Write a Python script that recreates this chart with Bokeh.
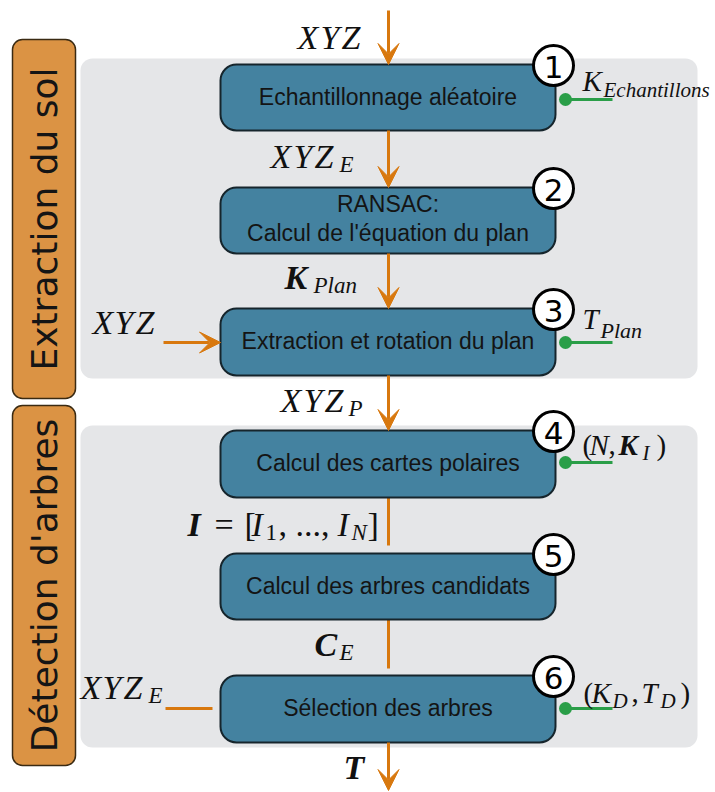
import math
from bokeh.plotting import figure
from bokeh.models import Range1d, Arrow, VeeHead
from bokeh.core.properties import value
from bokeh.embed import file_html
from bokeh.resources import INLINE

# ---------------- content ----------------
section_labels = ["Extraction du sol", "Détection d'arbres"]
step_numbers = ["1", "2", "3", "4", "5", "6"]
step_lines = [
    ["Echantillonnage aléatoire"],
    ["RANSAC:", "Calcul de l'équation du plan"],
    ["Extraction et rotation du plan"],
    ["Calcul des cartes polaires"],
    ["Calcul des arbres candidats"],
    ["Sélection des arbres"],
]
# math labels as segments: (text, kind)  m=italic, b=bold italic, s=italic subscript, r=roman, rs=roman subscript
flow_top = [("X", "m"), ("Y", "m"), ("Z", "m")]
flow_12 = [("X", "m"), ("Y", "m"), ("Z", "m"), ("E", "s")]
flow_23 = [("K", "b"), ("Plan", "s")]
flow_in3 = [("X", "m"), ("Y", "m"), ("Z", "m")]
flow_34 = [("X", "m"), ("Y", "m"), ("Z", "m"), ("P", "s")]
flow_45 = [("I", "b"), ("=", "r"), ("[", "r"), ("I", "m"), ("1", "rs"), (", ..., ", "r"),
           ("I", "m"), ("N", "s"), ("]", "r")]
flow_56 = [("C", "b"), ("E", "s")]
flow_in6 = [("X", "m"), ("Y", "m"), ("Z", "m"), ("E", "s")]
flow_out = [("T", "b")]
param_1 = [("K", "m"), ("Echantillons", "s")]
param_3 = [("T", "m"), ("Plan", "s")]
param_4 = [("(", "r"), ("N", "m"), (",", "r"), ("K", "b"), ("I", "s"), (")", "r")]
param_6 = [("(", "r"), ("K", "m"), ("D", "s"), (",", "r"), ("T", "m"), ("D", "s"), (")", "r")]

# ---------------- layout (page pixel coordinates, y downwards) ----------------
W, H = 715, 792
def Y(v):
    return H - v

box_left, box_right = 220, 555
box_top = [64, 187, 308, 430, 553, 675]
box_bot = [130, 253, 375, 497, 619, 742]
flow_x = 388

ORANGE = "#d8780e"
GREEN = "#2a9e48"
BLUE = "#4482a0"

p = figure(width=W, height=H, output_backend="svg", toolbar_location=None,
           x_range=Range1d(0, W), y_range=Range1d(0, H),
           min_border=0, outline_line_color=None, background_fill_color="white",
           border_fill_color="white")
p.axis.visible = False
p.grid.visible = False

# gray panels
p.quad(left=[80, 80], right=[697, 697], top=[Y(58), Y(425)], bottom=[Y(378), Y(747)],
       fill_color="#e5e6e8", line_color=None, border_radius=12)

# orange section labels
p.quad(left=[12, 12], right=[75, 75], top=[Y(39), Y(405)], bottom=[Y(398), Y(765)],
       fill_color="#db9344", line_color="#3a2a12", line_width=1.5, border_radius=10)
p.text(x=[44, 44], y=[Y(218.5), Y(585)], text=section_labels, angle=math.pi / 2,
       text_font=value("DejaVu Sans"), text_font_size="36px", text_align="center",
       text_baseline="middle", text_color="#151515")

# flow connectors
def arrow(x0, y0, x1, y1, head=True):
    if head:
        p.add_layout(Arrow(x_start=x0, y_start=Y(y0), x_end=x1, y_end=Y(y1),
                           line_color=ORANGE, line_width=3,
                           end=VeeHead(size=21, fill_color=ORANGE, line_color=ORANGE, line_width=1)))
    else:
        p.segment(x0=[x0], y0=[Y(y0)], x1=[x1], y1=[Y(y1)], line_color=ORANGE, line_width=3)

arrow(flow_x, 10, flow_x, box_top[0])
arrow(flow_x, box_bot[0], flow_x, box_top[1])
arrow(flow_x, box_bot[1], flow_x, box_top[2])
arrow(flow_x, box_bot[2], flow_x, box_top[3])
arrow(flow_x, box_bot[3], flow_x, 545, head=False)
arrow(flow_x, box_bot[4], flow_x, 668, head=False)
arrow(flow_x, box_bot[5], flow_x, 790)
arrow(163, 342, box_left, 342)
arrow(165, 708, 212, 708, head=False)

# blue step boxes
p.quad(left=[box_left] * 6, right=[box_right] * 6, top=[Y(t) for t in box_top],
       bottom=[Y(b) for b in box_bot], fill_color=BLUE, line_color="#16252c",
       line_width=2, border_radius=16)

# step texts (text_baseline middle)
for i, lines in enumerate(step_lines):
    cy = (box_top[i] + box_bot[i]) / 2
    if len(lines) == 1:
        ys = [cy - 1]
    else:
        ys = [cy - 17, cy + 12]
    p.text(x=[(box_left + box_right) / 2] * len(lines), y=[Y(v) for v in ys], text=lines,
           text_font=value("Liberation Sans"), text_font_size="23px", text_align="center",
           text_baseline="middle", text_color="#141414")

# green parameter connectors
green_y = [99, 342, 462, 708]
p.segment(x0=[565] * 4, y0=[Y(v) for v in green_y], x1=[612] * 4, y1=[Y(v) for v in green_y],
          line_color=GREEN, line_width=3)
p.circle(x=[565] * 4, y=[Y(v) for v in green_y], radius=6.5, fill_color=GREEN, line_color=None)

# numbered circles
p.circle(x=[553] * 6, y=[Y(t + 1) for t in box_top], radius=20, fill_color="white",
         line_color="black", line_width=3)
p.text(x=[553] * 6, y=[Y(t + 2) for t in box_top], text=step_numbers,
       text_font=value("DejaVu Sans"), text_font_size="31px", text_align="center",
       text_baseline="middle", text_color="black")

# math labels: xs = left edges, base = baseline of main text, sub_base = baseline of subscripts
def math_label(segs, xs, base, sub_base, size=34, sub=23):
    for (s, kind), x in zip(segs, xs):
        if kind in ("s", "rs"):
            fs, yy = sub, sub_base
        else:
            fs, yy = size, base
        style = {"m": "italic", "b": "bold italic", "s": "italic", "r": "normal", "rs": "normal"}[kind]
        p.text(x=[x], y=[Y(yy - 0.33 * fs)], text=[s], text_font=value("Liberation Serif"),
               text_font_size=f"{fs}px", text_font_style=style, text_align="left",
               text_baseline="middle", text_color="#111111")

math_label(flow_top, [297, 320, 341], 48, 52)
math_label(flow_12, [270, 293, 314, 339], 167, 172)
math_label(flow_23, [284, 313], 288, 293)
math_label(flow_in3, [92, 114, 135], 333, 338)
math_label(flow_34, [280, 303, 324, 348], 411, 416)
math_label(flow_45, [187, 214, 244, 251, 265, 278, 337, 351, 367], 535, 540)
math_label(flow_56, [314, 339], 655, 660)
math_label(flow_in6, [80, 102, 123, 148], 698, 703)
math_label(flow_out, [343], 778, 778)

math_label(param_1, [582, 603], 90, 96, size=29, sub=21)
math_label(param_3, [582, 600], 328, 337, size=29, sub=22)
math_label(param_4, [582, 589, 608, 618, 642, 656], 454, 459, size=29, sub=21)
math_label(param_6, [583, 591, 612, 631, 641, 660, 680], 702, 707, size=29, sub=21)

open("out.html", "w").write(file_html(p, INLINE))
